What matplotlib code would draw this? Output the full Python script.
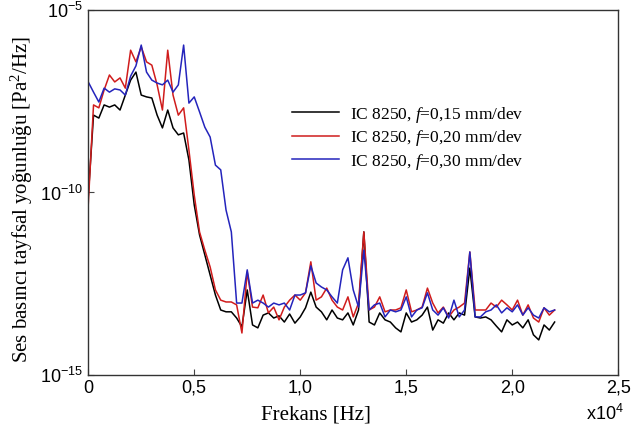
import numpy as np
import matplotlib
matplotlib.use('Agg')
import matplotlib.pyplot as plt

# frequency grid (Hz), 250 Hz spacing from 0 to 22 kHz
freq = np.linspace(0, 22000, 89)

# log10 of PSD values
black_exp = [-10.12, -7.88, -7.96, -7.60, -7.66, -7.60, -7.74, -7.33, -6.92, -6.70,
             -7.33, -7.38, -7.41, -7.88, -8.23, -7.74, -8.23, -8.42, -8.37, -9.11,
             -10.34, -11.16, -11.71, -12.26, -12.81, -13.22, -13.27, -13.27, -13.44, -13.68,
             -12.67, -13.63, -13.71, -13.36, -13.30, -13.44, -13.38, -13.55, -13.33, -13.58,
             -13.41, -13.16, -12.73, -13.14, -13.27, -13.49, -13.22, -13.44, -13.49, -13.30,
             -13.63, -13.22, -11.08, -13.55, -13.63, -13.30, -13.49, -13.55, -13.71, -13.82,
             -13.30, -13.55, -13.49, -13.36, -13.14, -13.77, -13.49, -13.58, -13.30, -13.49,
             -13.30, -13.36, -12.07, -13.41, -13.44, -13.41, -13.49, -13.66, -13.82, -13.49,
             -13.63, -13.55, -13.71, -13.49, -13.90, -14.04, -13.63, -13.77, -13.55]

red_exp = [-10.34, -7.60, -7.68, -7.19, -6.78, -6.97, -6.86, -7.14, -6.10, -6.42,
           -6.01, -6.42, -6.51, -7.05, -7.74, -6.10, -7.33, -7.88, -7.68, -8.84,
           -10.07, -11.08, -11.58, -12.04, -12.67, -12.95, -13.00, -13.00, -13.08, -13.85,
           -12.18, -13.14, -13.16, -12.81, -13.30, -13.14, -13.49, -13.14, -12.95, -12.81,
           -12.95, -12.75, -11.90, -12.95, -12.86, -12.62, -12.95, -13.14, -13.22, -12.86,
           -13.41, -13.03, -11.08, -13.22, -13.14, -12.86, -13.27, -13.22, -13.22, -13.16,
           -12.67, -13.27, -13.22, -13.14, -12.62, -13.03, -13.30, -13.14, -13.41, -13.22,
           -13.14, -13.03, -11.63, -13.22, -13.22, -13.22, -13.03, -13.14, -12.95, -13.08,
           -13.22, -12.95, -13.36, -13.08, -13.44, -13.55, -13.16, -13.36, -13.22]

blue_exp = [-6.97, -7.25, -7.52, -7.14, -7.25, -7.16, -7.19, -7.33, -6.81, -6.53,
            -5.96, -6.70, -6.92, -7.00, -7.05, -6.92, -7.25, -7.05, -5.96, -7.55,
            -7.38, -7.79, -8.21, -8.48, -9.25, -9.38, -10.48, -11.08, -13.03, -13.03,
            -12.12, -13.03, -12.95, -13.03, -13.14, -13.03, -13.08, -13.03, -13.22, -12.81,
            -12.81, -12.75, -12.01, -12.48, -12.59, -12.67, -12.86, -13.03, -12.12, -11.79,
            -12.67, -13.14, -11.58, -13.22, -13.08, -13.03, -13.41, -13.22, -13.27, -13.22,
            -12.86, -13.41, -13.22, -13.16, -12.75, -13.22, -13.36, -13.16, -13.44, -12.95,
            -13.41, -13.22, -11.63, -13.41, -13.41, -13.27, -13.22, -13.08, -13.30, -13.16,
            -13.27, -13.08, -13.36, -13.16, -13.36, -13.44, -13.16, -13.27, -13.22]

labels = ['IC 8250, $\\it{f}$=0,15 mm/dev',
          'IC 8250, $\\it{f}$=0,20 mm/dev',
          'IC 8250, $\\it{f}$=0,30 mm/dev']
colors = ['#000000', '#d01c1c', '#2424bc']

xticks = [0, 5000, 10000, 15000, 20000, 25000]
xticklabels = ['0', '0,5', '1,0', '1,5', '2,0', '2,5']
yticks = [1e-15, 1e-10, 1e-5]
yticklabels = ['$\\mathregular{10^{-15}}$', '$\\mathregular{10^{-10}}$', '$\\mathregular{10^{-5}}$']

plt.rcParams['mathtext.fontset'] = 'custom'
plt.rcParams['mathtext.rm'] = 'Liberation Serif'
plt.rcParams['mathtext.it'] = 'Liberation Serif:italic'

fig = plt.figure(figsize=(6.44, 4.37), dpi=100)
ax = fig.add_axes([0.137, 0.142, 0.823, 0.835])

for exps, c, lab in zip([black_exp, red_exp, blue_exp], colors, labels):
    ax.plot(freq, 10.0 ** np.array(exps), color=c, lw=1.1, label=lab)

ax.set_yscale('log')
ax.set_xlim(0, 25000)
ax.set_ylim(1e-15, 1e-5)
ax.minorticks_off()
ax.set_xticks(xticks)
ax.set_xticklabels(xticklabels, fontfamily='Liberation Sans', fontsize=13)
ax.set_yticks(yticks)
ax.set_yticklabels(yticklabels, fontfamily='Liberation Sans', fontsize=13)
ax.tick_params(direction='in', length=4, width=0.8, color='#444444')
for s in ax.spines.values():
    s.set_color('#333333')
    s.set_linewidth(1.0)

ax.set_xlabel('Frekans [Hz]', fontfamily='Liberation Serif', fontsize=15, labelpad=4)
ax.xaxis.set_label_coords(0.43, -0.085)
ax.set_ylabel('Ses basıncı tayfsal yoğunluğu [Pa$^2$/Hz]', fontfamily='Liberation Serif', fontsize=15)
ax.yaxis.set_label_coords(-0.1, 0.48)
ax.text(0.975, -0.08, '$\\mathregular{x10^4}$', transform=ax.transAxes, ha='center', va='top',
        fontfamily='Liberation Sans', fontsize=13)

leg = ax.legend(loc='upper left', bbox_to_anchor=(0.372, 0.76), frameon=False,
                prop={'family': 'Liberation Serif', 'size': 12.5},
                handlelength=2.7, handletextpad=0.6, labelspacing=0.2, borderaxespad=0)

fig.savefig('out.png', dpi=100)
